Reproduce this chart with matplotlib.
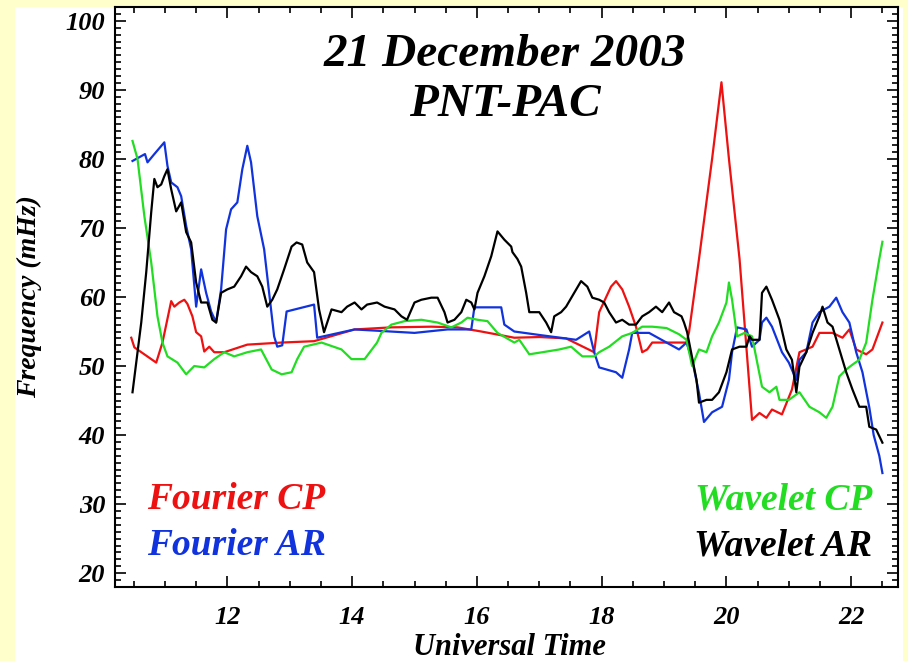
import matplotlib
matplotlib.use("Agg")
import matplotlib.pyplot as plt
from matplotlib.patches import Rectangle
from matplotlib.ticker import MultipleLocator

# Fourier CP (red)
fcp_t = [10.46, 10.51, 10.86, 10.96, 11.10, 11.15, 11.23, 11.31, 11.36, 11.44,
         11.50, 11.58, 11.63, 11.71, 11.79, 11.95, 12.32, 12.87, 13.39, 14.04,
         14.63, 15.27, 15.69, 16.07, 16.6, 17.0, 17.43, 17.88, 17.96, 18.15,
         18.23, 18.33, 18.44, 18.55, 18.65, 18.73, 18.81, 19.04, 19.36, 19.40,
         19.56, 19.77, 19.92, 20.04, 20.21, 20.41, 20.53, 20.64, 20.73, 20.89,
         21.05, 21.17, 21.38, 21.49, 21.70, 21.86, 21.97, 22.08, 22.24, 22.34,
         22.50]
fcp_f = [54.1, 52.7, 50.5, 53.4, 59.4, 58.6, 59.2, 59.6, 59.0, 57.2,
         54.9, 54.3, 52.1, 52.8, 52.0, 52.0, 53.1, 53.4, 53.6, 55.3,
         55.6, 55.7, 55.6, 55.0, 54.1, 54.2, 54.0, 52.0, 57.8, 61.5,
         62.3, 61.1, 58.6, 55.7, 52.0, 52.4, 53.4, 53.4, 53.4, 54.9,
         65.5, 80.0, 91.1, 80.0, 65.5, 42.2, 43.2, 42.5, 43.7, 43.0,
         46.6, 52.0, 52.8, 54.8, 54.8, 54.1, 55.3, 52.4, 51.7, 52.4,
         56.3]

# Fourier AR (blue)
far_t = [10.48, 10.68, 10.72, 10.83, 10.99, 11.04, 11.10, 11.20, 11.26, 11.34,
         11.42, 11.50, 11.58, 11.66, 11.74, 11.82, 11.90, 11.98, 12.06, 12.16,
         12.24, 12.32, 12.38, 12.48, 12.59, 12.67, 12.75, 12.80, 12.88, 12.95,
         13.39, 13.44, 14.04, 15.0, 15.53, 15.91, 15.96, 16.23, 16.39, 16.44,
         16.6, 17.0, 17.59, 17.80, 17.88, 17.96, 18.23, 18.33, 18.44, 18.49,
         18.76, 19.04, 19.24, 19.36, 19.45, 19.56, 19.64, 19.77, 19.93, 20.04,
         20.09, 20.17, 20.32, 20.41, 20.53, 20.57, 20.64, 20.73, 20.89, 21.0,
         21.12, 21.17, 21.28, 21.38, 21.49, 21.65, 21.76, 21.86, 21.97, 22.08,
         22.18, 22.29, 22.36, 22.45, 22.50]
far_f = [79.7, 80.7, 79.5, 80.7, 82.4, 79.0, 76.6, 75.9, 74.6, 70.3,
         66.9, 58.6, 64.0, 60.6, 57.9, 56.3, 61.1, 69.8, 72.7, 73.7,
         78.5, 81.9, 79.5, 71.7, 66.9, 60.6, 54.3, 52.8, 53.0, 57.9,
         58.9, 54.1, 55.3, 54.8, 55.3, 55.3, 58.5, 58.5, 58.5, 56.0,
         55.0, 54.5, 53.8, 55.0, 52.0, 49.8, 49.1, 48.3, 52.4, 54.8,
         54.8, 53.4, 52.4, 53.4, 50.9, 46.1, 41.9, 43.3, 44.1, 48.0,
         52.0, 55.6, 55.3, 52.8, 53.8, 56.3, 57.0, 55.7, 52.0, 50.5,
         48.0, 50.9, 52.0, 56.3, 57.8, 58.6, 59.9, 57.8, 56.3, 52.0,
         49.1, 44.0, 40.0, 37.0, 34.5]

# Wavelet CP (green)
wcp_t = [10.48, 10.56, 10.67, 10.78, 10.88, 10.96, 11.04, 11.2, 11.34, 11.47,
         11.63, 11.79, 11.95, 12.11, 12.32, 12.54, 12.71, 12.87, 13.03, 13.12,
         13.23, 13.51, 13.83, 13.99, 14.20, 14.40, 14.47, 14.63, 14.84, 15.11,
         15.37, 15.59, 15.75, 15.85, 16.01, 16.17, 16.33, 16.6, 16.68, 16.84,
         17.05, 17.32, 17.51, 17.69, 17.88, 17.96, 18.12, 18.33, 18.49, 18.65,
         18.81, 19.04, 19.24, 19.36, 19.45, 19.56, 19.68, 19.77, 19.88, 20.0,
         20.04, 20.09, 20.17, 20.29, 20.41, 20.57, 20.69, 20.8, 20.85, 21.0,
         21.17, 21.33, 21.49, 21.6, 21.7, 21.81, 21.92, 22.02, 22.13, 22.24,
         22.34, 22.45, 22.5]
wcp_f = [82.6, 80.0, 71.7, 65.0, 57.2, 53.4, 51.4, 50.5, 48.8, 50.0,
         49.8, 51.0, 52.0, 51.4, 52.0, 52.4, 49.5, 48.8, 49.1, 51.0,
         52.8, 53.4, 52.4, 51.0, 51.0, 53.4, 54.8, 56.0, 56.5, 56.7,
         56.3, 55.6, 56.3, 57.0, 56.7, 56.5, 54.8, 53.4, 53.8, 51.7,
         52.0, 52.4, 52.8, 51.4, 51.4, 52.0, 52.8, 54.3, 54.8, 55.7,
         55.7, 55.5, 54.6, 53.8, 50.0, 52.4, 52.0, 54.3, 56.3, 59.2,
         62.1, 59.6, 54.3, 54.8, 54.3, 47.0, 46.2, 47.0, 45.1, 45.1,
         46.2, 44.1, 43.3, 42.5, 44.1, 48.5, 49.5, 50.2, 50.9, 53.4,
         59.6, 65.5, 68.0]

# Wavelet AR (black)
war_t = [10.48, 10.54, 10.62, 10.7, 10.78, 10.83, 10.88, 10.94, 10.99, 11.04,
         11.1, 11.18, 11.26, 11.34, 11.42, 11.5, 11.58, 11.68, 11.76, 11.82,
         11.9, 12.0, 12.11, 12.22, 12.3, 12.38, 12.48, 12.56, 12.64, 12.72,
         12.8, 12.91, 13.03, 13.11, 13.2, 13.28, 13.39, 13.47, 13.55, 13.67,
         13.83, 13.92, 14.04, 14.15, 14.24, 14.4, 14.52, 14.68, 14.79, 14.88,
         15.0, 15.11, 15.27, 15.37, 15.48, 15.53, 15.64, 15.75, 15.83, 15.91,
         15.96, 16.01, 16.12, 16.23, 16.33, 16.44, 16.55, 16.57, 16.65, 16.71,
         16.79, 16.84, 17.0, 17.11, 17.19, 17.24, 17.35, 17.43, 17.56, 17.67,
         17.77, 17.85, 17.96, 18.04, 18.12, 18.23, 18.33, 18.44, 18.55, 18.65,
         18.76, 18.87, 18.97, 19.08, 19.16, 19.28, 19.32, 19.37, 19.52, 19.56,
         19.68, 19.77, 19.88, 20.0, 20.09, 20.21, 20.32, 20.37, 20.41, 20.53,
         20.57, 20.64, 20.73, 20.85, 20.96, 21.05, 21.12, 21.17, 21.28, 21.38,
         21.49, 21.54, 21.62, 21.7, 21.81, 21.92, 22.02, 22.13, 22.24, 22.29,
         22.4, 22.5]
war_f = [46.2, 50.5, 56.3, 63.6, 72.3, 77.1, 75.9, 76.3, 77.5, 78.5,
         75.6, 72.4, 73.7, 69.4, 67.9, 62.1, 59.2, 59.2, 56.7, 56.3,
         60.6, 61.1, 61.5, 63.0, 64.4, 63.6, 63.0, 61.5, 58.6, 59.6,
         61.1, 64.0, 67.3, 67.9, 67.6, 65.0, 63.6, 58.2, 54.9, 58.2,
         57.8, 58.6, 59.2, 58.2, 58.9, 59.2, 58.6, 58.2, 57.2, 56.7,
         59.2, 59.6, 59.9, 59.9, 57.8, 56.3, 56.7, 57.8, 59.6, 59.2,
         58.2, 60.6, 63.0, 65.9, 69.5, 68.3, 67.3, 66.5, 65.5, 64.4,
         60.6, 57.8, 57.8, 56.3, 54.9, 57.2, 57.8, 58.6, 60.6, 62.3,
         61.5, 59.9, 59.6, 59.2, 57.8, 56.3, 56.7, 56.0, 56.0, 57.2,
         57.8, 58.6, 57.8, 59.2, 57.8, 57.2, 56.3, 54.9, 48.0, 44.7,
         45.1, 45.1, 46.2, 49.1, 52.4, 52.8, 52.8, 54.3, 53.8, 53.8,
         60.6, 61.5, 59.6, 56.7, 52.4, 50.9, 46.2, 49.9, 52.0, 54.8,
         57.2, 58.6, 56.3, 55.7, 52.4, 49.1, 46.6, 44.1, 44.1, 41.2,
         40.8, 38.9]

x_ticks = [12, 14, 16, 18, 20, 22]
y_ticks = [20, 30, 40, 50, 60, 70, 80, 90, 100]

plt.rcParams['font.family'] = 'Liberation Serif'
plt.rcParams['font.style'] = 'italic'
plt.rcParams['font.weight'] = 'bold'

fig = plt.figure(figsize=(9.08, 6.61), dpi=100, facecolor='#FFFFCC')
# white panel inside the yellow page border
fig.patches.append(Rectangle((15 / 908, 0), 888 / 908, 654 / 661, transform=fig.transFigure,
                             facecolor='white', edgecolor='none', zorder=-10))
ax = fig.add_axes([0.1267, 0.112, 0.8623, 0.8774])

ax.plot(fcp_t, fcp_f, color='#EE1111', lw=1.6)
ax.plot(far_t, far_f, color='#1133DD', lw=1.6)
ax.plot(wcp_t, wcp_f, color='#22DD22', lw=1.6)
ax.plot(war_t, war_f, color='black', lw=1.6)

ax.set_xlim(10.2, 22.75)
ax.set_ylim(18, 102)
ax.set_xticks(x_ticks)
ax.set_yticks(y_ticks)
ax.xaxis.set_minor_locator(MultipleLocator(0.5))
ax.yaxis.set_minor_locator(MultipleLocator(1))
ax.tick_params(which='both', direction='in', top=True, right=True, width=1.2)
ax.tick_params(which='major', length=8, labelsize=19)
ax.tick_params(which='minor', length=4)
ax.tick_params(axis='x', which='major', pad=14)
ax.tick_params(axis='y', which='major', pad=7)
for s in ax.spines.values():
    s.set_linewidth(1.5)

ax.set_xlabel('Universal Time', fontsize=22, fontweight='bold')
ax.xaxis.set_label_coords(0.504, -0.105)
ax.xaxis.label.set_va('center')
ax.set_ylabel('Frequency (mHz)', fontsize=20, fontweight='bold')
ax.yaxis.set_label_coords(-0.109, 0.5)
ax.yaxis.label.set_va('center')

ax.text(0.498, 0.917, '21 December 2003', transform=ax.transAxes, fontsize=34,
        ha='center', va='center')
ax.text(0.498, 0.831, 'PNT-PAC', transform=ax.transAxes, fontsize=34,
        ha='center', va='center')

ax.text(0.041, 0.15, 'Fourier CP', transform=ax.transAxes, fontsize=27,
        color='#EE1111', ha='left', va='center')
ax.text(0.041, 0.071, 'Fourier AR', transform=ax.transAxes, fontsize=27,
        color='#1133DD', ha='left', va='center')
ax.text(0.967, 0.15, 'Wavelet CP', transform=ax.transAxes, fontsize=27,
        color='#22DD22', ha='right', va='center')
ax.text(0.967, 0.071, 'Wavelet AR', transform=ax.transAxes, fontsize=27,
        color='black', ha='right', va='center')

fig.savefig('out.png', dpi=100, facecolor=fig.get_facecolor())
